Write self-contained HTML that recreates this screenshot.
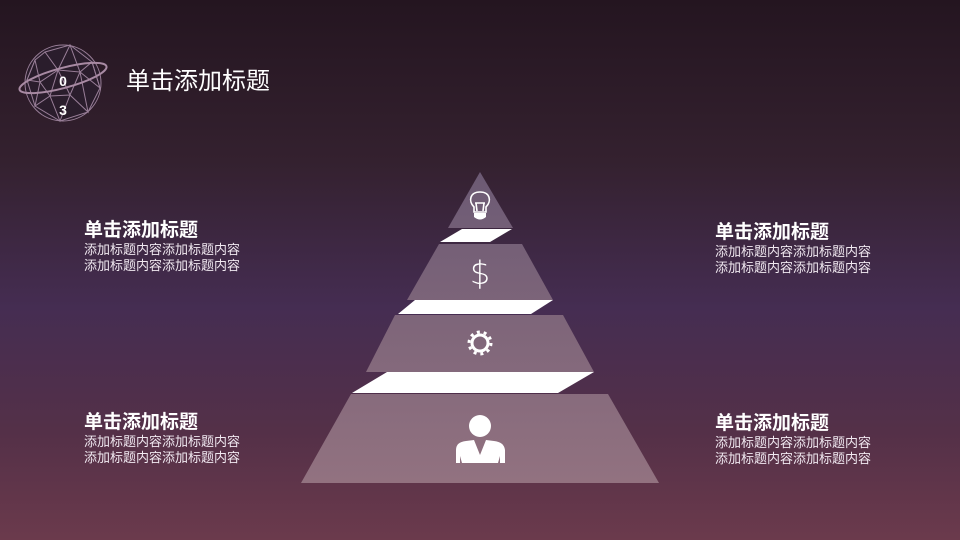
<!DOCTYPE html>
<html><head><meta charset="utf-8"><style>
*{margin:0;padding:0}
body{width:960px;height:540px;overflow:hidden;position:relative;
background:linear-gradient(180deg,#241520 0%,#34212f 30%,#452d52 57%,#543048 80%,#6b3a4c 100%);
font-family:"Liberation Sans","Noto Sans CJK SC",sans-serif;color:#fff}
.t{position:absolute;font-size:19px;font-weight:bold;line-height:20px}
.b{position:absolute;font-size:13px;line-height:16px;color:#f0e8f0}
</style></head><body>
<svg width="960" height="540" style="position:absolute;left:0;top:0">
<defs><linearGradient id="g" gradientUnits="userSpaceOnUse" x1="0" y1="172" x2="0" y2="483">
<stop offset="0" stop-color="#6c5a74"/><stop offset="1" stop-color="#927280"/></linearGradient></defs>
<g fill="url(#g)">
<polygon points="480,172 513,228 448,228"/>
<polygon points="439,244 522,244 553,300 407,300"/>
<polygon points="395,315 563,315 594,372 366,372"/>
<polygon points="351,394 608,394 659,483 301,483"/>
</g>
<g fill="#fff">
<polygon points="462,229 512,229 490,242 440,242"/>
<polygon points="415,300 553,300 531,314 398,314"/>
<polygon points="387,372 594,372 558,393 352,393"/>
</g>
<g stroke="#9a7f99" stroke-width="1" fill="none">
<circle cx="63" cy="83" r="38" fill="#2a1d2c"/>
<polygon points="45,52 70,45 92,62 100,88 88,112 60,121 35,106 27,80 35,60"/>
<polyline points="45,52 58,70 70,45 80,72 92,62 100,88 80,72 88,112 70,95 60,121 50,96 35,106 40,82 27,80 35,60 40,82 58,70 80,72 70,95 50,96 40,82"/>
<line x1="58" y1="70" x2="50" y2="96"/><line x1="70" y1="95" x2="58" y2="70"/>
<ellipse cx="63" cy="78" rx="45" ry="10" transform="rotate(-15 63 78)" stroke="#a88aa3" stroke-width="2"/>
</g>
<text x="63" y="86" font-size="14" font-weight="bold" fill="#fff" text-anchor="middle" font-family="Liberation Sans">0</text>
<text x="63" y="115" font-size="14" font-weight="bold" fill="#fff" text-anchor="middle" font-family="Liberation Sans">3</text>
<g stroke="#fff" stroke-width="1.6" fill="none">
<path d="M474,207 C468,201 470,192 480,192 C490,192 492,201 486,207 L486,212 L474,212 Z"/>
<path d="M476,203 L477,211 M484,203 L483,211 M475,203 L485,203"/>
</g>
<path d="M474,213 L486,213 L486,217 Q480,222 474,217 Z" fill="#fff"/>
<text x="480" y="284" font-size="32" font-weight="300" fill="#fff" text-anchor="middle" font-family="DejaVu Sans">$</text>
<g fill="none" stroke="#fff">
<circle cx="480" cy="343" r="8" stroke-width="3"/>
<circle cx="480" cy="343" r="11" stroke-width="3" stroke-dasharray="3 3.9"/>
</g>
<circle cx="480" cy="426" r="11" fill="#fff"/>
<path d="M456,463 L456,450 Q456,442 466,441 L474,440 L480,455 L486,440 L494,441 Q504,442 505,450 L505,463 L500,463 L500,456 L498,463 L462,463 L460,456 L460,463 Z" fill="#fff"/>
</svg>
<div style="position:absolute;left:126px;top:68px;font-size:24px;line-height:28px">单击添加标题</div>
<div class="t" style="left:84px;top:221px">单击添加标题</div>
<div class="b" style="left:84px;top:242px">添加标题内容添加标题内容<br>添加标题内容添加标题内容</div>
<div class="t" style="left:715px;top:223px">单击添加标题</div>
<div class="b" style="left:715px;top:244px">添加标题内容添加标题内容<br>添加标题内容添加标题内容</div>
<div class="t" style="left:84px;top:413px">单击添加标题</div>
<div class="b" style="left:84px;top:434px">添加标题内容添加标题内容<br>添加标题内容添加标题内容</div>
<div class="t" style="left:715px;top:414px">单击添加标题</div>
<div class="b" style="left:715px;top:435px">添加标题内容添加标题内容<br>添加标题内容添加标题内容</div>
</body></html>
